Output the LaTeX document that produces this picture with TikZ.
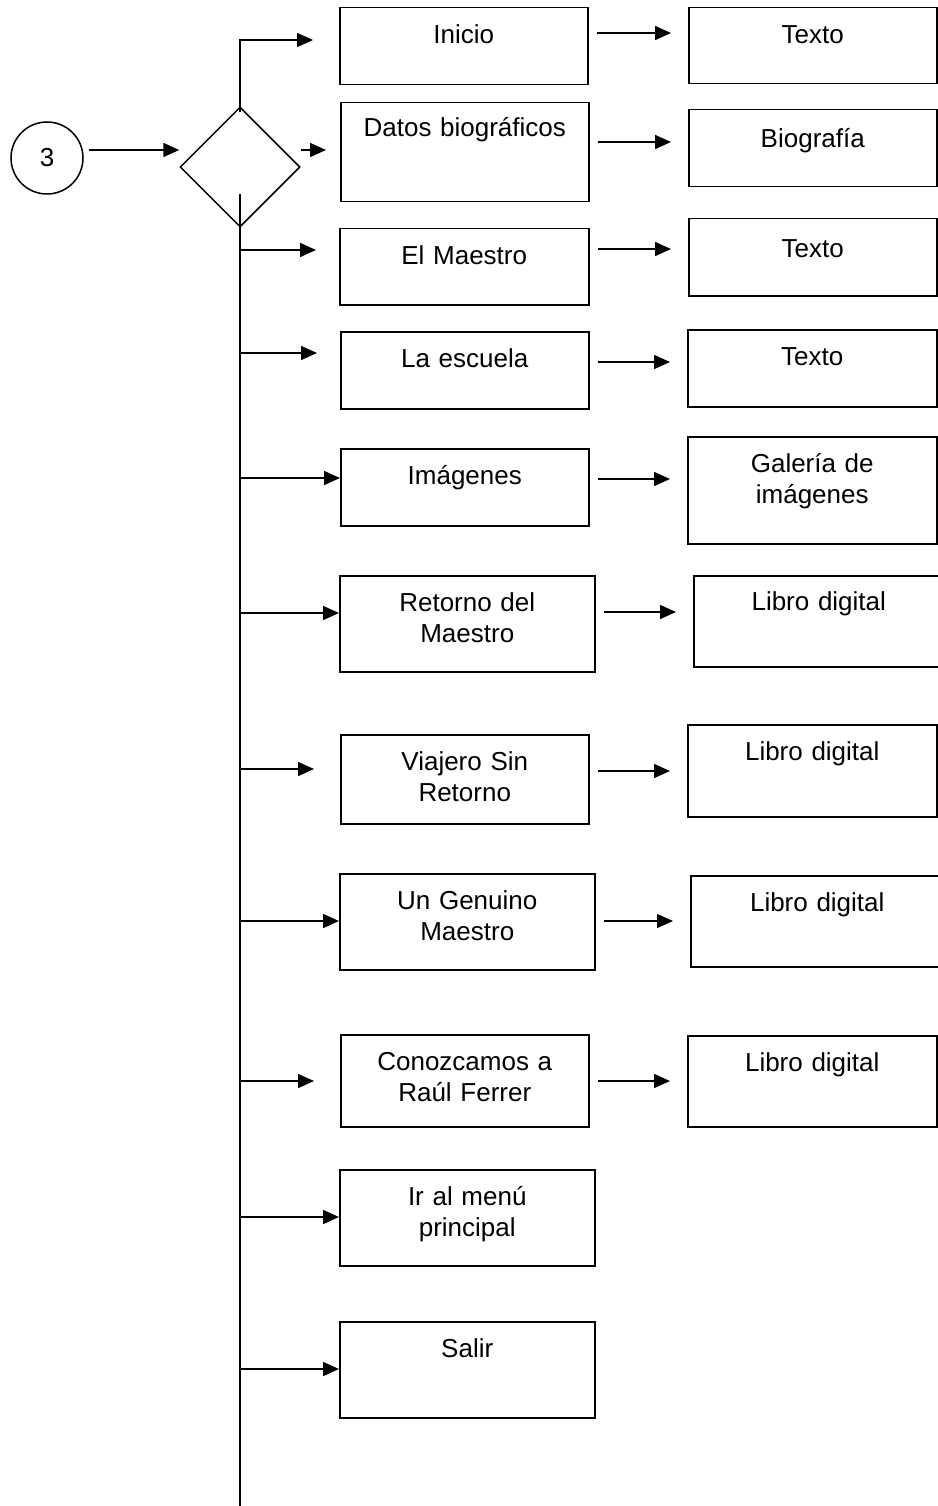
\documentclass[tikz,border=0pt]{standalone}
\usepackage{fontspec}
\setmainfont{Liberation Sans}
\usetikzlibrary{shapes.geometric,arrows.meta}

\begin{document}
\begin{tikzpicture}[x=1pt, y=-1pt, line width=1.5pt,
        font={\fontsize{26}{30.5}\selectfont},
        caja/.style={draw, anchor=north west, inner sep=0pt, align=center, text height=36pt},
        arr/.style={-{Triangle[length=16pt,width=14pt]}},
        sig/.style={arr, shorten <=8pt, shorten >=17pt}]
    \useasboundingbox (0,0) rectangle (937,1506);

    % entrada y decision
    \node[draw, circle, minimum size=72pt, inner sep=0pt] (c3) at (47,158) {3};
    \node[draw, diamond, minimum size=120pt, inner sep=0pt] (dec) at (240,167) {};
    \coordinate (spine) at (240,194);
    \coordinate (spineend) at (240,1506);

    % opciones del menu
    \node[caja, text width=248pt, text depth=41pt] (inicio) at (339,7) {Inicio};
    \node[caja, text width=248pt, text height=34pt, text depth=65pt] (datos) at (340,102) {Datos biográficos};
    \node[caja, text width=249pt, text depth=40pt] (maestro) at (339,228) {El Maestro};
    \node[caja, text width=248pt, text depth=41pt] (escuela) at (340,331) {La escuela};
    \node[caja, text width=248pt, text depth=41pt] (imagenes) at (340,448) {Imágenes};
    \node[caja, text width=255pt, text depth=60pt] (retorno) at (339,575) {Retorno del\\Maestro};
    \node[caja, text width=248pt, text depth=53pt] (viajero) at (340,734) {Viajero Sin\\Retorno};
    \node[caja, text width=255pt, text depth=60pt] (genuino) at (339,873) {Un Genuino\\Maestro};
    \node[caja, text width=248pt, text depth=56pt] (conozcamos) at (340,1034) {Conozcamos a\\Raúl Ferrer};
    \node[caja, text width=255pt, text depth=60pt] (irmenu) at (339,1169) {Ir al menú\\principal};
    \node[caja, text width=255pt, text depth=60pt] (salir) at (339,1321) {Salir};

    % contenidos
    \node[caja, text width=248pt, text depth=40pt] (texto1) at (688,7) {Texto};
    \node[caja, text width=248pt, text height=38pt, text depth=39pt] (bio) at (688,109) {Biografía};
    \node[caja, text width=248pt, text height=39pt, text depth=38pt] (texto2) at (688,218) {Texto};
    \node[caja, text width=249pt, text depth=41pt] (texto3) at (687,329) {Texto};
    \node[caja, text width=249pt, text depth=71pt] (galeria) at (687,436) {Galería de\\imágenes};
    \node[caja, text width=250pt, text height=35pt, text depth=56pt] (libro1) at (693,575) {Libro digital};
    \node[caja, text width=249pt, text depth=56pt] (libro2) at (687,724) {Libro digital};
    \node[caja, text width=253pt, text depth=55pt] (libro3) at (690,875) {Libro digital};
    \node[caja, text width=249pt, text depth=55pt] (libro4) at (687,1035) {Libro digital};

    % flechas
    \draw[arr, shorten <=5pt] (c3.east |- 0,150) -- (dec.west |- 0,150);
    \draw[arr, shorten <=-6pt, shorten >=26pt] (dec.north) |- (inicio.west |- 0,40);
    \draw[arr, shorten >=14pt] (dec.east |- 0,150) -- (datos.west |- 0,150);
    \draw (spine) -- (spineend);
    \draw[arr, shorten >=23pt] (spine |- 0,250) -- (maestro.west |- 0,250);
    \draw[arr, shorten >=23pt] (spine |- 0,353) -- (escuela.west |- 0,353);
    \draw[arr] (spine |- 0,478) -- (imagenes.west |- 0,478);
    \draw[arr] (spine |- 0,613) -- (retorno.west |- 0,613);
    \draw[arr, shorten >=26pt] (spine |- 0,769) -- (viajero.west |- 0,769);
    \draw[arr] (spine |- 0,921) -- (genuino.west |- 0,921);
    \draw[arr, shorten >=26pt] (spine |- 0,1081) -- (conozcamos.west |- 0,1081);
    \draw[arr] (spine |- 0,1217) -- (irmenu.west |- 0,1217);
    \draw[arr] (spine |- 0,1369) -- (salir.west |- 0,1369);

    \draw[sig] (inicio.east |- 0,33) -- (texto1.west |- 0,33);
    \draw[sig] (datos.east |- 0,142) -- (bio.west |- 0,142);
    \draw[sig] (maestro.east |- 0,249) -- (texto2.west |- 0,249);
    \draw[sig] (escuela.east |- 0,362) -- (texto3.west |- 0,362);
    \draw[sig] (imagenes.east |- 0,479) -- (galeria.west |- 0,479);
    \draw[sig] (retorno.east |- 0,612) -- (libro1.west |- 0,612);
    \draw[sig] (viajero.east |- 0,771) -- (libro2.west |- 0,771);
    \draw[sig] (genuino.east |- 0,921) -- (libro3.west |- 0,921);
    \draw[sig] (conozcamos.east |- 0,1081) -- (libro4.west |- 0,1081);
\end{tikzpicture}
\end{document}
